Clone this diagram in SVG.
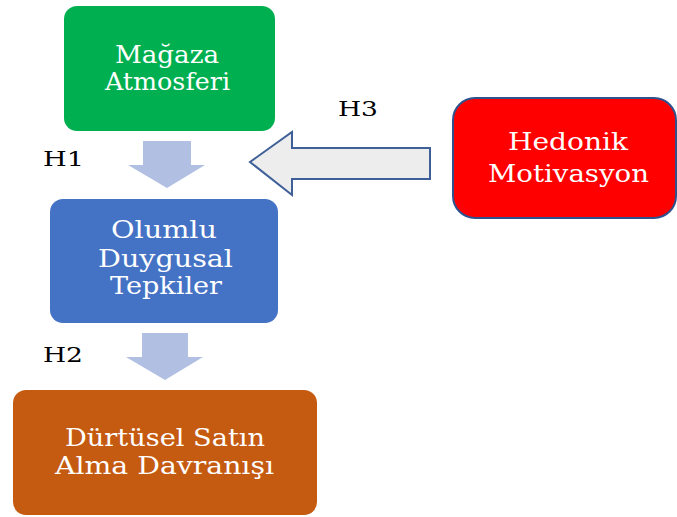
<svg xmlns="http://www.w3.org/2000/svg" width="677" height="517" viewBox="0 0 677 517">
<style>
.lbl{font-family:"DejaVu Serif","Liberation Serif",serif;font-size:24px;fill:#ffffff;text-anchor:middle}
.h{font-family:"DejaVu Serif","Liberation Serif",serif;font-size:21px;fill:#000000}
.down{fill:#B0BFE2}
</style>
<rect width="677" height="517" fill="#ffffff"/>
<g id="connectors">
<polygon class="down" points="143,141 191,141 191,165 205,165 167,188 128,165 143,165"/>
<polygon class="down" points="142,333 188,333 188,357 203,357 165,380 126,357 142,357"/>
<polygon points="430,148 292,148 292,132 250,162 292,195 292,179 430,179" fill="#EDEDED" stroke="#3F5F98" stroke-width="2" stroke-linejoin="miter"/>
<text class="h" x="43" y="166" textLength="41" lengthAdjust="spacingAndGlyphs">H1</text>
<text class="h" x="43" y="362" textLength="40" lengthAdjust="spacingAndGlyphs">H2</text>
<text class="h" x="338" y="116" textLength="40" lengthAdjust="spacingAndGlyphs">H3</text>
</g>
<g id="magaza">
<rect x="64" y="6" width="211" height="125" rx="13" fill="#00B050"/>
<text class="lbl" x="167" y="63" textLength="104" lengthAdjust="spacingAndGlyphs">Mağaza</text>
<text class="lbl" x="167.5" y="90" textLength="125" lengthAdjust="spacingAndGlyphs">Atmosferi</text>
</g>
<g id="olumlu">
<rect x="50" y="199" width="228" height="124" rx="13" fill="#4472C4"/>
<text class="lbl" x="164" y="238" textLength="106" lengthAdjust="spacingAndGlyphs">Olumlu</text>
<text class="lbl" x="165.5" y="267" textLength="135" lengthAdjust="spacingAndGlyphs">Duygusal</text>
<text class="lbl" x="166" y="294" textLength="112" lengthAdjust="spacingAndGlyphs">Tepkiler</text>
</g>
<g id="durtusel">
<rect x="13" y="390" width="304" height="125" rx="13" fill="#C55A11"/>
<text class="lbl" x="165" y="446" textLength="200" lengthAdjust="spacingAndGlyphs">Dürtüsel Satın</text>
<text class="lbl" x="164.5" y="474" textLength="219" lengthAdjust="spacingAndGlyphs">Alma Davranışı</text>
</g>
<g id="hedonik">
<rect x="453" y="98" width="223" height="120" rx="22" fill="#FF0000" stroke="#2F528F" stroke-width="2"/>
<text class="lbl" x="568" y="150" textLength="120" lengthAdjust="spacingAndGlyphs">Hedonik</text>
<text class="lbl" x="568.5" y="182" textLength="161" lengthAdjust="spacingAndGlyphs">Motivasyon</text>
</g>
</svg>
